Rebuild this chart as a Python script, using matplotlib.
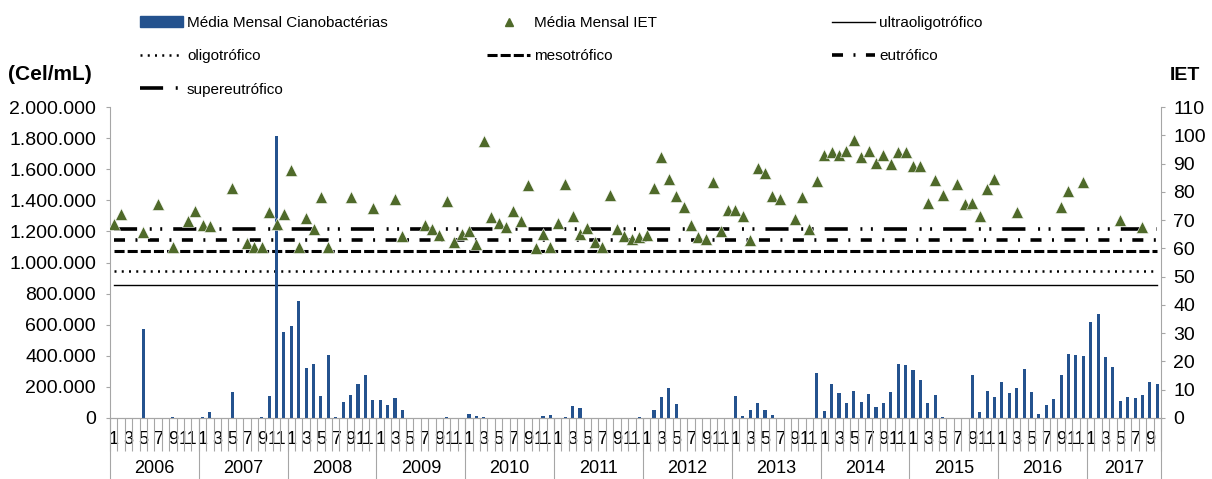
import numpy as np
import matplotlib.pyplot as plt
from matplotlib import font_manager
from matplotlib.ticker import FuncFormatter
from matplotlib.patches import Patch
from matplotlib.lines import Line2D

plt.rcParams['font.family'] = ['Liberation Sans', 'DejaVu Sans']
nomes_fontes = {f.name for f in font_manager.fontManager.ttflist}
tem_estreita = 'Liberation Sans Narrow' in nomes_fontes
fonte_estreita = 'Liberation Sans Narrow' if tem_estreita else 'Liberation Sans'
tam_legenda = 13 if tem_estreita else 11

# dados mensais 2006 - out/2017
anos = list(range(2006, 2018))
meses_por_ano = [12] * 11 + [10]

ciano_2006 = [2000, 2000, 0, 0, 575000, 0, 2000, 0, 6000, 0, 2000, 2000]
ciano_2007 = [8000, 40000, 0, 0, 168000, 0, 2000, 3000, 5000, 142000, 1815000, 554000]
ciano_2008 = [589000, 754000, 322000, 350000, 142000, 408000, 4000, 101000, 146000, 219000, 277000, 116000]
ciano_2009 = [114000, 86000, 129000, 49000, 2000, 2000, 2000, 2000, 2000, 8000, 2000, 2000]
ciano_2010 = [24000, 11000, 6000, 2000, 2000, 2000, 2000, 2000, 2000, 3000, 10000, 17000]
ciano_2011 = [2000, 6000, 77000, 64000, 2000, 2000, 2000, 2000, 2000, 2000, 2000, 6000]
ciano_2012 = [2000, 49000, 135000, 191000, 88000, 2000, 2000, 2000, 2000, 2000, 2000, 2000]
ciano_2013 = [142000, 15000, 54000, 97000, 54000, 17000, 2000, 2000, 2000, 2000, 2000, 292000]
ciano_2014 = [43000, 219000, 159000, 97000, 174000, 103000, 153000, 69000, 95000, 170000, 348000, 339000]
ciano_2015 = [309000, 243000, 99000, 146000, 9000, 0, 2000, 2000, 275000, 39000, 174000, 133000]
ciano_2016 = [232000, 163000, 195000, 316000, 170000, 24000, 82000, 122000, 277000, 412000, 404000, 397000]
ciano_2017 = [619000, 672000, 393000, 331000, 112000, 133000, 131000, 146000, 230000, 217000]

nan = np.nan
iet_2006 = [68.6, 72.2, nan, nan, 65.8, nan, 75.8, nan, 60.4, nan, 69.8, 73.3]
iet_2007 = [68.3, 67.9, nan, nan, 81.4, nan, 61.8, 60.4, 60.4, 72.8, 68.6, 72.1]
iet_2008 = [87.8, 60.4, 70.7, 66.8, 78.3, 60.5, nan, nan, 78.0, nan, nan, 74.3]
iet_2009 = [nan, nan, 77.6, 64.3, nan, nan, 68.1, 66.8, 64.7, 76.9, 62.4, 65.0]
iet_2010 = [66.3, 61.6, 97.8, 71.2, 69.0, 67.7, 73.1, 69.8, 82.3, 60.3, 65.1, 60.4]
iet_2011 = [68.9, 82.7, 71.5, 65.1, 67.1, 62.1, 60.4, 78.9, 66.8, 64.2, 63.2, 63.9]
iet_2012 = [64.7, 81.4, 92.3, 84.4, 78.5, 74.8, 68.2, 63.9, 63.2, 83.4, 66.3, 73.7]
iet_2013 = [73.7, 71.5, 63.0, 88.4, 86.6, 78.6, 77.4, nan, 70.4, 78.0, 67.0, 83.9]
iet_2014 = [93.1, 94.0, 93.1, 94.6, 98.4, 92.3, 94.5, 90.1, 93.0, 89.7, 94.0, 94.0]
iet_2015 = [89.0, 89.2, 76.2, 84.2, 78.8, nan, 82.8, 75.6, 76.2, 71.6, 80.9, 84.4]
iet_2016 = [nan, nan, 72.9, nan, nan, nan, nan, nan, 74.7, 80.3, nan, 83.3]
iet_2017 = [nan, nan, nan, nan, 69.9, nan, nan, 67.5, nan, nan]

# limites de classe do IET
limites = [47, 52, 59, 63, 67]
classes = ['ultraoligotrófico', 'oligotrófico', 'mesotrófico', 'eutrófico', 'supereutrófico']

ciano = (ciano_2006 + ciano_2007 + ciano_2008 + ciano_2009 + ciano_2010 + ciano_2011
         + ciano_2012 + ciano_2013 + ciano_2014 + ciano_2015 + ciano_2016 + ciano_2017)
iet = (iet_2006 + iet_2007 + iet_2008 + iet_2009 + iet_2010 + iet_2011
       + iet_2012 + iet_2013 + iet_2014 + iet_2015 + iet_2016 + iet_2017)
meses = [m for n in meses_por_ano for m in range(1, n + 1)]
x = np.arange(len(meses))

cor_barra = '#24528E'
cor_iet = '#4F6A2A'
cinza = '#A6A6A6'

estilos = [dict(lw=1.0, ls='-'),
           dict(lw=1.8, dashes=(0.8, 2.1)),
           dict(lw=2.2, dashes=(3.3, 1.0)),
           dict(lw=2.6, dashes=(3.05, 2.9, 0.55, 2.9)),
           dict(lw=2.6, dashes=(6.4, 3.5, 0.55, 2.35, 0.55, 3.05))]

fig = plt.figure(figsize=(12.12, 4.79), dpi=100)
rect = [110 / 1212, 1 - 418 / 479, (1161 - 110) / 1212, (418 - 107) / 479]

# camada de baixo: linhas de classe
ax_lin = fig.add_axes(rect)
ax_lin.set_zorder(0)
for lim, est in zip(limites, estilos):
    ax_lin.plot([x[0], x[-1]], [lim, lim], color='black', **est)
ax_lin.set_xlim(-0.5, len(x) - 0.5)
ax_lin.set_ylim(0, 110)
ax_lin.set_axis_off()

# barras de cianobactérias
ax = fig.add_axes(rect)
ax.set_zorder(1)
ax.patch.set_visible(False)
ax.bar(x, ciano, width=0.42, color=cor_barra, edgecolor='none')
ax.set_xlim(-0.5, len(x) - 0.5)
ax.set_ylim(0, 2000000)
ax.set_yticks(np.arange(0, 2000001, 200000))
ax.yaxis.set_major_formatter(FuncFormatter(lambda v, p: f'{int(v):,}'.replace(',', '.')))
ax.tick_params(axis='y', length=3, color=cinza, labelsize=14, pad=7)
for s in ['top', 'right']:
    ax.spines[s].set_visible(False)
for s in ['left', 'bottom']:
    ax.spines[s].set_color(cinza)

impares = [i for i, m in enumerate(meses) if m % 2 == 1]
ax.set_xticks(impares, labels=[str(meses[i]) for i in impares])
ax.set_xticks(np.arange(len(x) + 1) - 0.5, minor=True)
ax.tick_params(axis='x', which='major', length=0, pad=9, labelsize=13)
ax.tick_params(axis='x', which='minor', length=24, color=cinza, width=0.8)

# anos
inicio = np.concatenate([[0], np.cumsum(meses_por_ano)])
sec = ax.secondary_xaxis('bottom')
sec.set_ticks(inicio - 0.5, labels=[''] * len(inicio))
sec.set_ticks((inicio[:-1] + inicio[1:]) / 2 - 0.5, labels=[str(a) for a in anos], minor=True)
sec.tick_params(axis='x', which='major', length=44, color=cinza, width=0.8)
sec.tick_params(axis='x', which='minor', length=0, pad=30, labelsize=13)
sec.spines['bottom'].set_color(cinza)

# IET
ax_iet = fig.add_axes(rect)
ax_iet.set_zorder(2)
ax_iet.patch.set_visible(False)
ax_iet.plot(x, iet, ls='none', marker='^', ms=8.5, color=cor_iet, mec='white', mew=0.4)
ax_iet.set_xlim(-0.5, len(x) - 0.5)
ax_iet.set_ylim(0, 110)
ax_iet.set_yticks(np.arange(0, 111, 10))
ax_iet.yaxis.tick_right()
ax_iet.xaxis.set_visible(False)
ax_iet.tick_params(axis='y', length=3, color=cinza, labelsize=14, pad=6)
for s in ['top', 'left', 'bottom']:
    ax_iet.spines[s].set_visible(False)
ax_iet.spines['right'].set_color(cinza)

fig.text(8 / 1212, 1 - 75 / 479, '(Cel/mL)', ha='left', va='center', fontsize=15,
         fontweight='bold', family=[fonte_estreita, 'DejaVu Sans'])
fig.text(1170 / 1212, 1 - 75 / 479, 'IET', ha='left', va='center', fontsize=14,
         fontweight='bold', family=[fonte_estreita, 'DejaVu Sans'])

# legenda em 3 colunas
h_barra = Patch(facecolor=cor_barra, edgecolor=cor_barra)
h_iet = Line2D([], [], ls='none', marker='^', ms=6, color=cor_iet)
h_lin = [Line2D([], [], color='black', **est) for est in estilos]

px_fonte = tam_legenda * 100 / 72
colunas = [([h_barra, h_lin[1], h_lin[4]], ['Média Mensal Cianobactérias', classes[1], classes[4]], 140),
           ([h_iet, h_lin[2]], ['Média Mensal IET', classes[2]], 487),
           ([h_lin[0], h_lin[3]], [classes[0], classes[3]], 832)]
for hs, ls, x0 in colunas:
    fig.legend(hs, ls, loc='upper left', bbox_to_anchor=(x0 / 1212, 1 - 16 / 479),
               frameon=False, borderpad=0, borderaxespad=0, handlelength=43 / px_fonte,
               handletextpad=4 / px_fonte, labelspacing=(33 - 13.7) / px_fonte,
               prop={'family': [fonte_estreita, 'DejaVu Sans'], 'size': tam_legenda})

fig.savefig('out.png', dpi=100)
